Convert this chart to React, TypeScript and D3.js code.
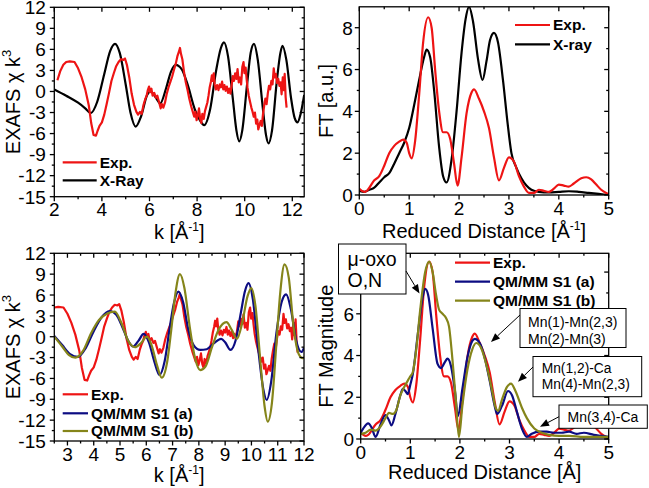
import React from "react";
import * as d3 from "d3";

const FONT = "'Liberation Sans', Arial, Helvetica, sans-serif";

// ---------- data ----------
const exafsExp: [number, number][] = [
  [2.13, 1.6], [2.25, 2.9], [2.38, 3.8], [2.5, 4.2], [2.65, 4.3], [2.85, 4.2], [3.0, 3.3], [3.15, 2.0],
  [3.3, 0.3], [3.45, -2.0], [3.55, -4.5], [3.65, -6.2], [3.75, -6.3], [3.82, -5.6], [3.9, -4.9], [4.0, -4.4],
  [4.1, -3.3], [4.2, -1.8], [4.3, -0.2], [4.4, 1.5], [4.5, 2.6], [4.6, 3.6], [4.7, 4.2], [4.8, 4.6],
  [4.9, 4.5], [4.97, 4.7], [5.05, 3.8], [5.15, 2.0], [5.25, -0.3], [5.35, -1.9], [5.45, -2.9], [5.52, -3.3],
  [5.6, -2.9], [5.67, -3.2], [5.75, -1.9], [5.82, -1.1], [5.88, -0.6], [5.93, 0.2], [5.98, 0.7], [6.03, -0.1],
  [6.08, 0.4], [6.13, -0.6], [6.2, -0.2], [6.27, -0.9], [6.33, -0.6], [6.4, -1.5], [6.47, -2.4], [6.52, -1.8],
  [6.58, -2.3], [6.65, -1.6], [6.72, -0.4], [6.8, 0.6], [6.88, 1.4], [6.95, 2.1], [7.02, 3.0], [7.1, 3.9],
  [7.17, 5.0], [7.23, 5.6], [7.28, 6.2], [7.32, 5.4], [7.38, 4.6], [7.45, 2.8], [7.52, 1.4], [7.6, 0.2],
  [7.67, -1.0], [7.75, -2.1], [7.82, -2.9], [7.88, -3.6], [7.93, -2.9], [7.98, -4.1], [8.03, -3.4], [8.08, -2.4],
  [8.13, -3.9], [8.18, -4.5], [8.22, -3.2], [8.28, -3.9], [8.33, -2.8], [8.38, -2.2], [8.43, -1.6], [8.48, -0.6],
  [8.53, 0.6], [8.58, 1.4], [8.62, 2.3], [8.66, 1.5], [8.7, 2.6], [8.74, 1.0], [8.79, 0.3], [8.84, 0.9],
  [8.9, 0.2], [8.95, 1.0], [9.0, 0.6], [9.05, 1.4], [9.1, 0.3], [9.15, 0.9], [9.2, 0.1], [9.25, 0.7],
  [9.3, -0.2], [9.35, 0.4], [9.4, -0.3], [9.45, 0.8], [9.5, 2.2], [9.55, 1.5], [9.6, 2.6], [9.65, 1.8],
  [9.7, 3.2], [9.75, 1.3], [9.8, 2.0], [9.85, 1.0], [9.9, 3.5], [9.95, 4.2], [9.99, 2.6], [10.04, 3.4],
  [10.08, 1.8], [10.12, 0.5], [10.17, -0.6], [10.22, -1.4], [10.28, -2.3], [10.33, -2.9], [10.38, -3.6], [10.43, -3.0],
  [10.48, -4.6], [10.53, -4.0], [10.57, -5.4], [10.62, -4.8], [10.67, -4.2], [10.72, -4.9], [10.77, -3.2], [10.82, -2.0],
  [10.87, -1.0], [10.92, -1.8], [10.97, -0.3], [11.02, 0.8], [11.07, 0.3], [11.12, 1.5], [11.17, 1.0], [11.22, 3.3],
  [11.26, 2.0], [11.31, 2.5], [11.36, 1.2], [11.41, 1.8], [11.46, 0.8], [11.51, 1.3], [11.55, -0.4], [11.6, 2.0],
  [11.64, 0.2], [11.68, 2.5], [11.72, -0.8], [11.76, -2.3],
];

const exafsXray: [number, number][] = [
  [2.0, 0.3], [2.5, -0.6], [3.0, -1.6], [3.3, -2.4], [3.53, -3.1], [3.8, -1.5], [4.1, 2.5], [4.35, 5.8],
  [4.55, 6.8], [4.75, 5.5], [5.0, 1.0], [5.2, -3.0], [5.42, -5.0], [5.65, -3.5], [5.9, -0.5], [6.05, 0.0],
  [6.25, -0.8], [6.45, -1.7], [6.7, 0.5], [6.9, 2.8], [7.1, 3.8], [7.35, 3.2], [7.6, 1.0], [7.9, -2.5],
  [8.1, -4.0], [8.3, -4.8], [8.55, -2.5], [8.8, 3.0], [9.0, 6.2], [9.13, 7.0], [9.3, 5.0], [9.5, -1.0],
  [9.65, -5.5], [9.77, -7.1], [9.9, -5.5], [10.1, 1.0], [10.25, 5.5], [10.39, 6.8], [10.55, 4.5], [10.75, -2.0],
  [10.9, -6.3], [11.0, -7.4], [11.15, -5.5], [11.35, 1.5], [11.5, 5.5], [11.59, 6.5], [11.75, 4.5], [11.95, -1.0],
  [12.1, -3.8], [12.22, -4.4], [12.35, -3.2], [12.5, -0.5],
];

const exafsQmA: [number, number][] = [
  [2.5, 0.1], [2.8, -1.2], [3.1, -2.5], [3.4, -2.9], [3.7, -1.6], [4.0, 0.8], [4.3, 2.8], [4.6, 3.7],
  [4.85, 3.2], [5.1, 1.3], [5.3, -0.5], [5.5, -1.4], [5.7, -0.6], [5.9, 0.4], [6.1, -0.8], [6.3, -3.5],
  [6.5, -5.5], [6.7, -3.5], [6.9, 1.5], [7.05, 4.8], [7.22, 6.5], [7.4, 5.0], [7.6, 1.0], [7.8, -1.2],
  [8.05, -1.9], [8.3, -1.8], [8.55, -1.0], [8.85, -0.3], [9.0, -0.8], [9.2, -1.9], [9.4, -0.5], [9.6, 3.5],
  [9.75, 6.5], [9.89, 7.7], [10.05, 5.5], [10.25, -1.5], [10.45, -7.5], [10.58, -9.1], [10.75, -6.5], [10.95, 0.5],
  [11.15, 5.0], [11.32, 6.1], [11.5, 4.0], [11.7, -0.5], [11.9, -2.2], [12.0, -1.6],
];

const exafsQmB: [number, number][] = [
  [2.5, 0.0], [2.8, -1.4], [3.05, -2.6], [3.3, -3.0], [3.6, -2.0], [3.9, 0.5], [4.2, 2.4], [4.5, 3.3],
  [4.8, 3.6], [5.05, 2.0], [5.3, -0.5], [5.57, -1.5], [5.8, -0.9], [6.02, 0.0], [6.2, -1.2], [6.4, -4.0],
  [6.59, -5.9], [6.8, -3.5], [6.95, 1.0], [7.1, 6.0], [7.28, 9.0], [7.45, 7.0], [7.65, 1.5], [7.85, -3.0],
  [8.05, -4.8], [8.25, -4.3], [8.5, -1.5], [8.75, 1.0], [9.05, 2.1], [9.25, 1.0], [9.45, -0.3], [9.65, 2.0],
  [9.85, 5.8], [10.0, 7.0], [10.15, 4.5], [10.35, -4.0], [10.5, -10.0], [10.62, -12.2], [10.78, -9.5], [10.95, -1.0],
  [11.1, 6.5], [11.26, 10.4], [11.42, 8.5], [11.6, 1.5], [11.8, -2.5], [11.95, -3.1], [12.0, -2.9],
];

const ftExp: [number, number][] = [
  [0, 0.3], [0.1, 0.15], [0.15, 0.2], [0.3, 0.7], [0.4, 0.9], [0.5, 1.4], [0.6, 2.0], [0.7, 2.35],
  [0.8, 2.55], [0.88, 2.65], [0.95, 2.5], [1.0, 2.0], [1.05, 1.75], [1.12, 2.6], [1.2, 4.8], [1.28, 7.3],
  [1.38, 8.5], [1.45, 8.0], [1.52, 6.0], [1.6, 4.0], [1.68, 3.0], [1.75, 3.0], [1.82, 2.7], [1.9, 1.5],
  [1.97, 0.45], [2.05, 1.8], [2.15, 3.9], [2.25, 4.9], [2.3, 5.05], [2.4, 4.6], [2.5, 4.0], [2.6, 3.2],
  [2.7, 1.8], [2.8, 0.7], [2.9, 1.3], [3.0, 1.8], [3.1, 1.6], [3.2, 0.9], [3.3, 0.4], [3.4, 0.1],
  [3.5, 0.1], [3.6, 0.25], [3.7, 0.2], [3.8, 0.15], [3.9, 0.3], [4.0, 0.5], [4.1, 0.45], [4.2, 0.4],
  [4.3, 0.55], [4.45, 0.8], [4.55, 0.85], [4.65, 0.75], [4.75, 0.5], [4.85, 0.25], [4.95, 0.1], [5.0, 0.05],
];

const ftXray: [number, number][] = [
  [0, 0.2], [0.1, 0.15], [0.2, 0.25], [0.3, 0.35], [0.4, 0.6], [0.5, 0.85], [0.6, 1.05], [0.7, 1.5],
  [0.8, 2.0], [0.9, 2.5], [1.0, 3.2], [1.1, 4.3], [1.2, 5.5], [1.3, 6.6], [1.35, 6.95], [1.42, 6.6],
  [1.5, 5.0], [1.6, 2.3], [1.68, 0.9], [1.75, 0.6], [1.85, 1.7], [1.95, 4.0], [2.05, 6.8], [2.13, 8.4],
  [2.2, 9.0], [2.28, 8.3], [2.38, 6.5], [2.47, 5.5], [2.55, 6.4], [2.62, 7.4], [2.7, 7.75], [2.78, 7.3],
  [2.88, 5.5], [2.97, 3.5], [3.05, 2.0], [3.15, 1.3], [3.25, 0.8], [3.35, 0.45], [3.45, 0.25], [3.6, 0.15],
  [3.8, 0.12], [4.0, 0.15], [4.2, 0.18], [4.4, 0.15], [4.6, 0.1], [4.8, 0.05], [5.0, 0.0],
];

const ftQmA: [number, number][] = [
  [0, 0.3], [0.05, 0.5], [0.15, 0.75], [0.22, 0.55], [0.3, 0.1], [0.4, 0.7], [0.5, 1.15], [0.57, 0.9],
  [0.62, 0.65], [0.7, 1.2], [0.8, 2.1], [0.85, 2.4], [0.9, 2.3], [0.95, 2.15], [1.0, 2.6], [1.05, 3.1],
  [1.15, 5.0], [1.25, 6.8], [1.3, 7.2], [1.36, 6.9], [1.45, 5.3], [1.55, 3.6], [1.62, 3.4], [1.7, 3.7],
  [1.75, 3.85], [1.82, 3.5], [1.9, 2.3], [1.96, 1.1], [2.05, 2.4], [2.15, 3.9], [2.25, 4.7], [2.3, 4.8],
  [2.4, 4.6], [2.5, 3.9], [2.6, 2.8], [2.7, 1.6], [2.75, 1.2], [2.85, 1.6], [2.97, 2.3], [3.05, 2.1],
  [3.15, 1.3], [3.25, 0.5], [3.35, 0.1], [3.45, 0.25], [3.6, 0.35], [3.75, 0.35], [3.9, 0.3], [4.05, 0.3],
  [4.2, 0.35], [4.35, 0.25], [4.5, 0.3], [4.7, 0.2], [4.85, 0.15], [5.0, 0.1],
];

const ftQmB: [number, number][] = [
  [0, 0.25], [0.1, 0.3], [0.2, 0.45], [0.3, 0.4], [0.4, 0.6], [0.5, 1.0], [0.57, 1.25], [0.65, 1.2],
  [0.72, 1.4], [0.8, 2.1], [0.88, 2.5], [0.95, 2.8], [1.0, 3.0], [1.05, 3.2], [1.12, 4.3], [1.2, 6.2],
  [1.3, 8.0], [1.38, 8.5], [1.45, 8.0], [1.52, 6.9], [1.58, 6.2], [1.65, 6.0], [1.72, 5.8], [1.78, 5.4],
  [1.85, 3.8], [1.92, 1.8], [1.98, 0.1], [2.05, 1.6], [2.15, 3.3], [2.25, 4.3], [2.33, 4.6], [2.42, 4.4],
  [2.55, 3.4], [2.65, 2.3], [2.72, 1.5], [2.77, 1.35], [2.85, 1.9], [2.95, 2.5], [3.03, 2.65], [3.12, 2.3],
  [3.25, 1.5], [3.35, 1.0], [3.5, 0.5], [3.65, 0.3], [3.8, 0.2], [4.0, 0.15], [4.2, 0.15], [4.5, 0.1],
  [4.8, 0.1], [5.0, 0.1],
];

const kTicks1 = [2, 4, 6, 8, 10, 12];
const kMinor1 = [3, 5, 7, 9, 11];
const kTicks3 = [3, 4, 5, 6, 7, 8, 9, 10, 11, 12];
const kMinor3 = [2.5, 3.5, 4.5, 5.5, 6.5, 7.5, 8.5, 9.5, 10.5, 11.5];
const chiTicks = [-15, -12, -9, -6, -3, 0, 3, 6, 9, 12];
const chiMinor = [-13.5, -10.5, -7.5, -4.5, -1.5, 1.5, 4.5, 7.5, 10.5];
const rTicks = [0, 1, 2, 3, 4, 5];
const rMinor = [0.5, 1.5, 2.5, 3.5, 4.5];
const ftTicks = [0, 2, 4, 6, 8];
const ftMinor = [1, 3, 5, 7];
const ftLabelsHidden = [8]; // covered by the "μ-oxo" box in the lower-right panel

const legend1 = ["Exp.", "X-Ray"];
const legend2 = ["Exp.", "X-ray"];
const legend34 = ["Exp.", "QM/MM S1 (a)", "QM/MM S1 (b)"];

const RED = "#ee1414";
const NAVY = "#0c0c82";
const OLIVE = "#85851a";
const BLACK = "#000000";

type Pt = [number, number];
type Series = { data: Pt[]; color: string; smooth: boolean };

interface Spec {
  id: string;
  left: number; right: number; top: number; bottom: number;
  xDomain: [number, number]; yDomain: [number, number];
  xMajor: number[]; xMinor: number[]; yMajor: number[]; yMinor: number[];
  hideY?: number[];
  series: Series[];
  legend: { labels: string[]; colors: string[]; x1: number; x2: number; ys: number[] };
  labelGap: number;
  xTitle: React.ReactNode; xTitleY: number;
  yTitle: React.ReactNode; yTitleX: number;
}

function AngInv() {
  return (
    <>
      {"[Å"}
      <tspan fontSize="12" dy="-8">-1</tspan>
      <tspan dy="8">]</tspan>
    </>
  );
}

function Panel({ s }: { s: Spec }) {
  const x = d3.scaleLinear().domain(s.xDomain).range([s.left, s.right]);
  const y = d3.scaleLinear().domain(s.yDomain).range([s.bottom, s.top]);
  const lineSmooth = d3.line<Pt>().x((d) => x(d[0])).y((d) => y(d[1])).curve(d3.curveMonotoneX);
  const lineRaw = d3.line<Pt>().x((d) => x(d[0])).y((d) => y(d[1]));
  const maj = 4.5, min = 2.5;
  const ax = { stroke: "#000", strokeWidth: 1.3 };
  const hide = s.hideY || [];
  return (
    <g>
      <defs>
        <clipPath id={s.id}>
          <rect x={s.left} y={s.top} width={s.right - s.left} height={s.bottom - s.top} />
        </clipPath>
      </defs>
      <g clipPath={`url(#${s.id})`}>
        {s.series.map((sr, i) => (
          <path key={i} d={(sr.smooth ? lineSmooth : lineRaw)(sr.data) || ""} fill="none"
            stroke={sr.color} strokeWidth={2.2} strokeLinejoin="round" />
        ))}
      </g>
      <rect x={s.left} y={s.top} width={s.right - s.left} height={s.bottom - s.top} fill="none" {...ax} />
      {s.xMajor.map((v) => (
        <g key={"xM" + v}>
          <line x1={x(v)} x2={x(v)} y1={s.bottom} y2={s.bottom + maj} {...ax} />
          <line x1={x(v)} x2={x(v)} y1={s.top} y2={s.top + maj} {...ax} />
          <text x={x(v)} y={s.bottom + 19.5} textAnchor="middle" fontSize="19" fontFamily={FONT}>{v}</text>
        </g>
      ))}
      {s.xMinor.map((v) => (
        <g key={"xm" + v}>
          <line x1={x(v)} x2={x(v)} y1={s.bottom} y2={s.bottom + min} {...ax} />
          <line x1={x(v)} x2={x(v)} y1={s.top} y2={s.top + min} {...ax} />
        </g>
      ))}
      {s.yMajor.map((v) => (
        <g key={"yM" + v}>
          <line x1={s.left - maj} x2={s.left} y1={y(v)} y2={y(v)} {...ax} />
          <line x1={s.right - maj} x2={s.right} y1={y(v)} y2={y(v)} {...ax} />
          {hide.indexOf(v) < 0 && (
            <text x={s.left - s.labelGap} y={y(v) + 6.8} textAnchor="end" fontSize="19" fontFamily={FONT}>{v}</text>
          )}
        </g>
      ))}
      {s.yMinor.map((v) => (
        <g key={"ym" + v}>
          <line x1={s.left - min} x2={s.left} y1={y(v)} y2={y(v)} {...ax} />
          <line x1={s.right - min} x2={s.right} y1={y(v)} y2={y(v)} {...ax} />
        </g>
      ))}
      <text x={(s.left + s.right) / 2} y={s.xTitleY} textAnchor="middle" fontSize="20" fontFamily={FONT}>{s.xTitle}</text>
      <text transform={`translate(${s.yTitleX},${(s.top + s.bottom) / 2}) rotate(-90)`} textAnchor="middle"
        fontSize="20" fontFamily={FONT}>{s.yTitle}</text>
      {s.legend.labels.map((lab, i) => (
        <g key={"lg" + i}>
          <line x1={s.legend.x1} x2={s.legend.x2} y1={s.legend.ys[i]} y2={s.legend.ys[i]}
            stroke={s.legend.colors[i]} strokeWidth={2.2} />
          <text x={s.legend.x2 + 3} y={s.legend.ys[i] + 5.4} fontSize="15.5" fontWeight="bold" fontFamily={FONT}>{lab}</text>
        </g>
      ))}
    </g>
  );
}

const exafsTitle = (
  <>
    {"EXAFS χ k"}
    <tspan fontSize="13" dy="-9">3</tspan>
  </>
);

function Arrow({ x1, y1, x2, y2 }: { x1: number; y1: number; x2: number; y2: number }) {
  const a = Math.atan2(y2 - y1, x2 - x1);
  const L = 9, W = 3.6;
  const bx = x2 - L * Math.cos(a), by = y2 - L * Math.sin(a);
  const p1 = [bx + W * Math.sin(a), by - W * Math.cos(a)];
  const p2 = [bx - W * Math.sin(a), by + W * Math.cos(a)];
  return (
    <g>
      <line x1={x1} y1={y1} x2={bx} y2={by} stroke="#000" strokeWidth={1} />
      <polygon points={`${x2},${y2} ${p1[0]},${p1[1]} ${p2[0]},${p2[1]}`} fill="#000" />
    </g>
  );
}

export default function App() {
  const p1: Spec = {
    id: "c1", left: 54.3, right: 304.2, top: 7.3, bottom: 196.7,
    xDomain: [2, 12.5], yDomain: [-15, 12],
    xMajor: kTicks1, xMinor: kMinor1, yMajor: chiTicks, yMinor: chiMinor,
    series: [
      { data: exafsXray, color: BLACK, smooth: true },
      { data: exafsExp, color: RED, smooth: false },
    ],
    legend: { labels: legend1, colors: [RED, BLACK], x1: 62.7, x2: 96.7, ys: [162.3, 180.3] },
    labelGap: 8.5,
    xTitle: <>{"k "}<AngInv /></>, xTitleY: 239,
    yTitle: exafsTitle, yTitleX: 20,
  };
  const p2: Spec = {
    id: "c2", left: 359.3, right: 608.7, top: 6.8, bottom: 195,
    xDomain: [0, 5], yDomain: [0, 9],
    xMajor: rTicks, xMinor: rMinor, yMajor: ftTicks, yMinor: ftMinor,
    series: [
      { data: ftXray, color: BLACK, smooth: true },
      { data: ftExp, color: RED, smooth: true },
    ],
    legend: { labels: legend2, colors: [RED, BLACK], x1: 515, x2: 550, ys: [25, 44.3] },
    labelGap: 6.5,
    xTitle: <>{"Reduced Distance "}<AngInv /></>, xTitleY: 238,
    yTitle: "FT [a.u.]", yTitleX: 333,
  };
  const p3: Spec = {
    id: "c3", left: 54.3, right: 304, top: 253.3, bottom: 441,
    xDomain: [2.5, 12], yDomain: [-15, 12],
    xMajor: kTicks3, xMinor: kMinor3, yMajor: chiTicks, yMinor: chiMinor,
    series: [
      { data: exafsExp.filter((d) => d[0] >= 2.5), color: RED, smooth: false },
      { data: exafsQmA, color: NAVY, smooth: true },
      { data: exafsQmB, color: OLIVE, smooth: true },
    ],
    legend: { labels: legend34, colors: [RED, NAVY, OLIVE], x1: 62.7, x2: 88, ys: [394.3, 413.3, 431] },
    labelGap: 8.5,
    xTitle: <>{"k "}<AngInv /></>, xTitleY: 482,
    yTitle: exafsTitle, yTitleX: 20,
  };
  const p4: Spec = {
    id: "c4", left: 360.7, right: 608.7, top: 253.3, bottom: 439,
    xDomain: [0, 5], yDomain: [0, 8.9],
    xMajor: rTicks, xMinor: rMinor, yMajor: ftTicks, yMinor: ftMinor, hideY: ftLabelsHidden,
    series: [
      { data: ftExp, color: RED, smooth: true },
      { data: ftQmA, color: NAVY, smooth: true },
      { data: ftQmB, color: OLIVE, smooth: true },
    ],
    legend: { labels: legend34, colors: [RED, NAVY, OLIVE], x1: 455, x2: 490, ys: [262.7, 281.7, 300.7] },
    labelGap: 6.5,
    xTitle: "Reduced Distance [Å]", xTitleY: 479,
    yTitle: "FT Magnitude", yTitleX: 333,
  };

  const boxStyle = { fill: "#fff", stroke: "#000", strokeWidth: 1 };
  return (
    <svg width={649} height={488} style={{ position: "absolute", left: 0, top: 0, background: "#fff" }}
      xmlns="http://www.w3.org/2000/svg">
      <rect x={0} y={0} width={649} height={488} fill="#fff" />
      <Panel s={p1} />
      <Panel s={p2} />
      <Panel s={p3} />
      <Panel s={p4} />
      {/* annotations */}
      <g fontFamily={FONT}>
        <rect x={338.5} y={244} width={67.5} height={50} {...boxStyle} />
        <text x={347.5} y={265.5} fontSize="19.5">μ-oxo</text>
        <text x={347.5} y={287} fontSize="19.5">O,N</text>
        <Arrow x1={406} y1={271} x2={419.5} y2={293.5} />

        <rect x={520} y={308.5} width={106} height={39} {...boxStyle} />
        <text x={528} y={326.8} fontSize="14">Mn(1)-Mn(2,3)</text>
        <text x={528} y={343.5} fontSize="14">Mn(2)-Mn(3)</text>
        <Arrow x1={520} y1={315} x2={491} y2={342} />

        <rect x={533} y={356.5} width={108.7} height={40.2} {...boxStyle} />
        <text x={541.7} y={373} fontSize="13.8">Mn(1,2)-Ca</text>
        <text x={541.7} y={389} fontSize="13.8">Mn(4)-Mn(2,3)</text>
        <Arrow x1={533} y1={367} x2={518} y2={381.7} />

        <rect x={559} y={405} width={88.3} height={23.3} {...boxStyle} />
        <text x={567.5} y={421.7} fontSize="14">Mn(3,4)-Ca</text>
        <Arrow x1={559} y1={416.7} x2={540} y2={426.7} />
      </g>
    </svg>
  );
}
